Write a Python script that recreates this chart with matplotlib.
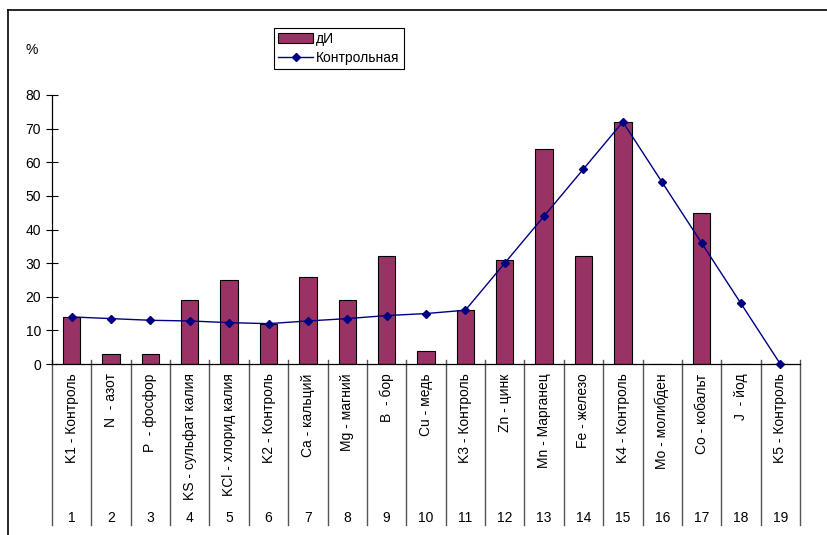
import matplotlib
matplotlib.use('Agg')
import matplotlib.pyplot as plt
import numpy as np
from matplotlib.lines import Line2D

plt.rcParams['font.family'] = ['Liberation Sans', 'DejaVu Sans']

labels = ['K1 - Контроль', 'N  - азот', 'P  - фосфор', 'KS - сульфат калия',
          'KCl - хлорид калия', 'K2 - Контроль', 'Ca - кальций', 'Mg - магний',
          'B  - бор', 'Cu - медь', 'K3 - Контроль', 'Zn - цинк',
          'Mn - Марганец', 'Fe - железо', 'K4 - Контроль', 'Mo - молибден',
          'Co - кобальт', 'J  - йод', 'K5 - Контроль']
numbers = [str(i) for i in range(1, 20)]
di = [14, 3, 3, 19, 25, 12, 26, 19, 32, 4, 16, 31, 64, 32, 72, 0, 45, 0, 0]
control = [14, 13.5, 13, 12.8, 12.3, 12, 12.8, 13.5, 14.4, 15, 16,
           30, 44, 58, 72, 54, 36, 18, 0]

fig = plt.figure(figsize=(8.27, 5.35), dpi=100)
ax = fig.add_axes([52/827, 1-364/535, (800-52)/827, (364-95)/535])

x = np.arange(1, 20)
ax.bar(x, di, width=0.44, color='#993366', edgecolor='black', linewidth=0.8,
       label='дИ', zorder=2)
ax.plot(x, control, color='#000080', marker='D', markersize=4.5, linewidth=1,
        label='Контрольная', zorder=3, clip_on=False)

ax.set_xlim(0.5, 19.5)
ax.set_ylim(0, 80)
ax.set_yticks(range(0, 81, 10))
ax.tick_params(axis='y', direction='inout', length=8, width=0.8, labelsize=10, pad=4)
ax.set_xticks([])
for s in ['top', 'right']:
    ax.spines[s].set_visible(False)
ax.spines['left'].set_linewidth(0.9)
ax.spines['bottom'].set_linewidth(0.9)

# multi-level category axis below the plot
trans = ax.get_xaxis_transform()
y_bottom = (364 - 525) / 269
for b in np.arange(0.5, 20, 1):
    ax.plot([b, b], [0.015, y_bottom], transform=trans, color='#555555',
            linewidth=1, clip_on=False)
for xi, lab, num in zip(x, labels, numbers):
    ax.text(xi, -0.035, lab, transform=trans, rotation=90, ha='center', va='top',
            fontsize=10)
    ax.text(xi, (364 - 518) / 269, num, transform=trans, ha='center', va='center',
            fontsize=10)

fig.text(25/827, 1-50/535, '%', fontsize=10, va='center')

handles = [plt.Rectangle((0, 0), 1, 1, facecolor='#993366', edgecolor='black', linewidth=0.8),
           Line2D([], [], color='#000080', marker='D', markersize=4, linewidth=1)]
leg = fig.legend(handles, ['дИ', 'Контрольная'], loc='upper left',
                 bbox_to_anchor=(274/827, 1-28/535), fontsize=10, frameon=True,
                 fancybox=False, edgecolor='black', framealpha=1,
                 borderpad=0.3, labelspacing=0.35, handlelength=2.5,
                 handletextpad=0.25, borderaxespad=0)
leg.get_frame().set_linewidth(0.8)

# outer chart frame (top and left edges)
fig.add_artist(Line2D([8/827, 1], [1-10/535, 1-10/535], color='black', linewidth=1.2))
fig.add_artist(Line2D([8/827, 8/827], [0, 1-10/535], color='black', linewidth=1.2))

fig.savefig('out.png', dpi=100)
